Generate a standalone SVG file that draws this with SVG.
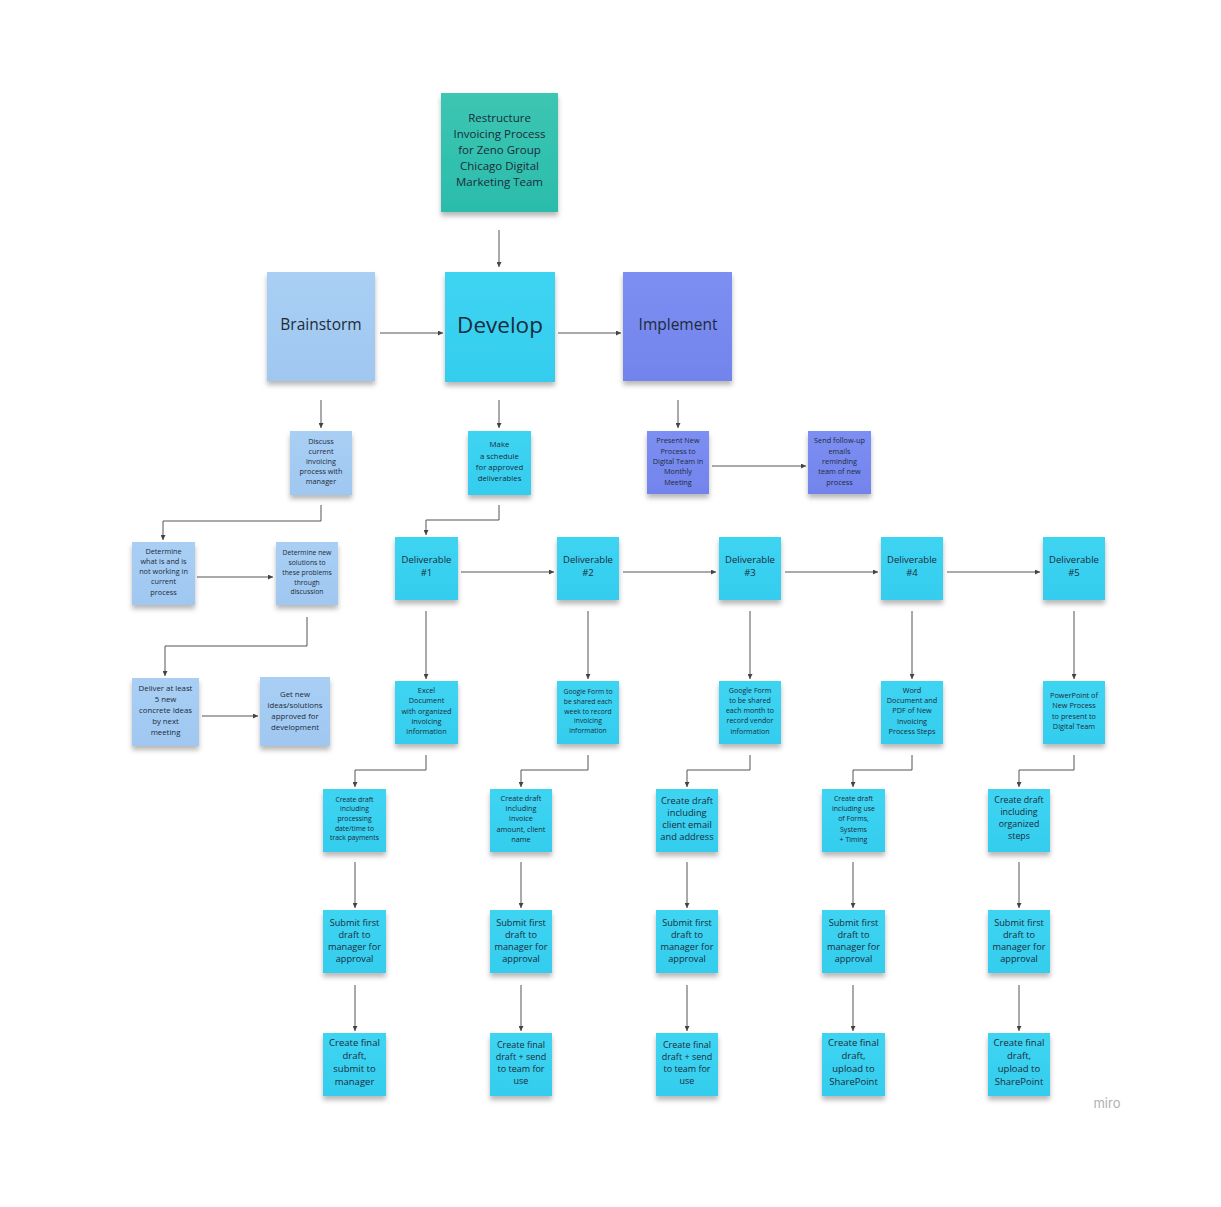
<svg xmlns="http://www.w3.org/2000/svg" width="1221" height="1207" viewBox="0 0 1221 1207">
<defs>
<filter id="sh" x="-20%" y="-20%" width="140%" height="150%">
<feDropShadow dx="0" dy="4" stdDeviation="2.5" flood-color="#000" flood-opacity="0.28"/>
</filter>
<linearGradient id="gTeal" x1="0" y1="0" x2="0" y2="1"><stop offset="0" stop-color="#3cc6b2"/><stop offset="1" stop-color="#2bbcab"/></linearGradient>
<linearGradient id="gBlue" x1="0" y1="0" x2="0" y2="1"><stop offset="0" stop-color="#a9cff4"/><stop offset="1" stop-color="#9fc7f0"/></linearGradient>
<linearGradient id="gCyan" x1="0" y1="0" x2="0" y2="1"><stop offset="0" stop-color="#3ed4f2"/><stop offset="1" stop-color="#34cdee"/></linearGradient>
<linearGradient id="gPurp" x1="0" y1="0" x2="0" y2="1"><stop offset="0" stop-color="#7d8ff2"/><stop offset="1" stop-color="#7284ec"/></linearGradient>
<marker id="ah" viewBox="0 0 6 6" refX="6" refY="3" markerWidth="5" markerHeight="5" orient="auto" markerUnits="userSpaceOnUse">
<path d="M0,0 L6,3 L0,6 z" fill="#444"/>
</marker>
</defs>
<style>
.teal{fill:url(#gTeal);filter:url(#sh)}
.blue{fill:url(#gBlue);filter:url(#sh)}
.cyan{fill:url(#gCyan);filter:url(#sh)}
.purp{fill:url(#gPurp);filter:url(#sh)}
text{font-family:"Open Sans","Noto Sans",sans-serif;fill:#1c2b3a;text-anchor:middle;dominant-baseline:central}
.c line,.c polyline{stroke:#555;stroke-width:1;fill:none;marker-end:url(#ah)}
</style>
<rect width="1221" height="1207" fill="#fff"/>

<g class="c" id="connectors">
<line x1="499" y1="230" x2="499" y2="267"/>
<line x1="380" y1="333" x2="443" y2="333"/>
<line x1="558" y1="333" x2="621" y2="333"/>
<line x1="321" y1="400" x2="321" y2="428"/>
<line x1="499" y1="400" x2="499" y2="428"/>
<line x1="678" y1="400" x2="678" y2="428"/>
<polyline points="321,505 321,521 163,521 163,540"/>
<line x1="197" y1="577" x2="273" y2="577"/>
<polyline points="307,617 307,646 165,646 165,676"/>
<line x1="202" y1="716" x2="258" y2="716"/>
<polyline points="499,505 499,520 426,520 426,535"/>
<line x1="712" y1="466" x2="806" y2="466"/>
<line x1="461" y1="572" x2="554" y2="572"/>
<line x1="623" y1="572" x2="716" y2="572"/>
<line x1="785" y1="572" x2="878" y2="572"/>
<line x1="947" y1="572" x2="1040" y2="572"/>
<line x1="426" y1="611" x2="426" y2="679"/>
<line x1="588" y1="611" x2="588" y2="679"/>
<line x1="750" y1="611" x2="750" y2="679"/>
<line x1="912" y1="611" x2="912" y2="679"/>
<line x1="1074" y1="611" x2="1074" y2="679"/>
<polyline points="426,755 426,770 355,770 355,787"/>
<polyline points="588,755 588,770 521,770 521,787"/>
<polyline points="750,755 750,770 687,770 687,787"/>
<polyline points="912,755 912,770 853,770 853,787"/>
<polyline points="1074,755 1074,770 1019,770 1019,787"/>
<line x1="355" y1="862" x2="355" y2="908"/>
<line x1="521" y1="862" x2="521" y2="908"/>
<line x1="687" y1="862" x2="687" y2="908"/>
<line x1="853" y1="862" x2="853" y2="908"/>
<line x1="1019" y1="862" x2="1019" y2="908"/>
<line x1="355" y1="985" x2="355" y2="1031"/>
<line x1="521" y1="985" x2="521" y2="1031"/>
<line x1="687" y1="985" x2="687" y2="1031"/>
<line x1="853" y1="985" x2="853" y2="1031"/>
<line x1="1019" y1="985" x2="1019" y2="1031"/>
</g>

<g id="n-top"><rect class="teal" x="441" y="93" width="117" height="119"/>
<text font-size="11.5"><tspan x="499.5" y="117">Restructure</tspan><tspan x="499.5" y="133">Invoicing Process</tspan><tspan x="499.5" y="149">for Zeno Group</tspan><tspan x="499.5" y="165">Chicago Digital</tspan><tspan x="499.5" y="181">Marketing Team</tspan></text></g>

<g id="n-brainstorm"><rect class="blue" x="267" y="272" width="108" height="109"/>
<text x="321" y="324" font-size="15.5">Brainstorm</text></g>
<g id="n-develop"><rect class="cyan" x="445" y="272" width="110" height="110"/>
<text x="500" y="324" font-size="22.5">Develop</text></g>
<g id="n-implement"><rect class="purp" x="623" y="272" width="109" height="109"/>
<text x="678" y="324" font-size="15.5">Implement</text></g>

<g id="n-discuss"><rect class="blue" x="290" y="431" width="62" height="64"/>
<text font-size="7.3"><tspan x="321" y="441">Discuss</tspan><tspan x="321" y="451">current</tspan><tspan x="321" y="461">invoicing</tspan><tspan x="321" y="471">process with</tspan><tspan x="321" y="481">manager</tspan></text></g>
<g id="n-determine1"><rect class="blue" x="132" y="542" width="63" height="63"/>
<text font-size="7.3"><tspan x="163.5" y="551">Determine</tspan><tspan x="163.5" y="561">what is and is</tspan><tspan x="163.5" y="571">not working in</tspan><tspan x="163.5" y="581">current</tspan><tspan x="163.5" y="592">process</tspan></text></g>
<g id="n-determine2"><rect class="blue" x="276" y="542" width="62" height="63"/>
<text font-size="6.8"><tspan x="307" y="552">Determine new</tspan><tspan x="307" y="562">solutions to</tspan><tspan x="307" y="572">these problems</tspan><tspan x="307" y="582">through</tspan><tspan x="307" y="591">discussion</tspan></text></g>
<g id="n-deliver"><rect class="blue" x="132" y="678" width="67" height="68"/>
<text font-size="7.8"><tspan x="165.5" y="688">Deliver at least</tspan><tspan x="165.5" y="699">5 new</tspan><tspan x="165.5" y="710">concrete Ideas</tspan><tspan x="165.5" y="721">by next</tspan><tspan x="165.5" y="732">meeting</tspan></text></g>
<g id="n-getnew"><rect class="blue" x="260" y="677" width="70" height="69"/>
<text font-size="7.8"><tspan x="295" y="694">Get new</tspan><tspan x="295" y="705">ideas/solutions</tspan><tspan x="295" y="716">approved for</tspan><tspan x="295" y="727">development</tspan></text></g>

<g id="n-schedule"><rect class="cyan" x="468" y="431" width="63" height="64"/>
<text font-size="7.8"><tspan x="499.5" y="444">Make</tspan><tspan x="499.5" y="456">a schedule</tspan><tspan x="499.5" y="467">for approved</tspan><tspan x="499.5" y="478">deliverables</tspan></text></g>

<g id="n-present"><rect class="purp" x="647" y="431" width="62" height="63"/>
<text font-size="7.3"><tspan x="678" y="440">Present New</tspan><tspan x="678" y="451">Process to</tspan><tspan x="678" y="461">Digital Team in</tspan><tspan x="678" y="471">Monthly</tspan><tspan x="678" y="482">Meeting</tspan></text></g>
<g id="n-followup"><rect class="purp" x="808" y="431" width="63" height="63"/>
<text font-size="7.3"><tspan x="839.5" y="440">Send follow-up</tspan><tspan x="839.5" y="451">emails</tspan><tspan x="839.5" y="461">reminding</tspan><tspan x="839.5" y="471">team of new</tspan><tspan x="839.5" y="482">process</tspan></text></g>

<g id="n-d1"><rect class="cyan" x="395" y="537" width="63" height="63"/>
<text font-size="9.5"><tspan x="426.5" y="559">Deliverable</tspan><tspan x="426.5" y="572">#1</tspan></text></g>
<g id="n-d2"><rect class="cyan" x="557" y="537" width="62" height="63"/>
<text font-size="9.5"><tspan x="588" y="559">Deliverable</tspan><tspan x="588" y="572">#2</tspan></text></g>
<g id="n-d3"><rect class="cyan" x="719" y="537" width="62" height="63"/>
<text font-size="9.5"><tspan x="750" y="559">Deliverable</tspan><tspan x="750" y="572">#3</tspan></text></g>
<g id="n-d4"><rect class="cyan" x="881" y="537" width="62" height="63"/>
<text font-size="9.5"><tspan x="912" y="559">Deliverable</tspan><tspan x="912" y="572">#4</tspan></text></g>
<g id="n-d5"><rect class="cyan" x="1043" y="537" width="62" height="63"/>
<text font-size="9.5"><tspan x="1074" y="559">Deliverable</tspan><tspan x="1074" y="572">#5</tspan></text></g>

<g id="n-excel"><rect class="cyan" x="395" y="681" width="63" height="63"/>
<text font-size="7.3"><tspan x="426.5" y="690">Excel</tspan><tspan x="426.5" y="700">Document</tspan><tspan x="426.5" y="711">with organized</tspan><tspan x="426.5" y="721">invoicing</tspan><tspan x="426.5" y="731">information</tspan></text></g>
<g id="n-gform1"><rect class="cyan" x="557" y="681" width="62" height="63"/>
<text font-size="6.8"><tspan x="588" y="691">Google Form to</tspan><tspan x="588" y="701">be shared each</tspan><tspan x="588" y="711">week to record</tspan><tspan x="588" y="720">invoicing</tspan><tspan x="588" y="730">information</tspan></text></g>
<g id="n-gform2"><rect class="cyan" x="719" y="681" width="62" height="63"/>
<text font-size="7.1"><tspan x="750" y="690">Google Form</tspan><tspan x="750" y="700">to be shared</tspan><tspan x="750" y="710">each month to</tspan><tspan x="750" y="720">record vendor</tspan><tspan x="750" y="731">information</tspan></text></g>
<g id="n-word"><rect class="cyan" x="881" y="681" width="62" height="63"/>
<text font-size="7.3"><tspan x="912" y="690">Word</tspan><tspan x="912" y="700">Document and</tspan><tspan x="912" y="710">PDF of New</tspan><tspan x="912" y="721">Invoicing</tspan><tspan x="912" y="731">Process Steps</tspan></text></g>
<g id="n-ppt"><rect class="cyan" x="1043" y="681" width="62" height="63"/>
<text font-size="7.3"><tspan x="1074" y="695">PowerPoint of</tspan><tspan x="1074" y="705">New Process</tspan><tspan x="1074" y="716">to present to</tspan><tspan x="1074" y="726">Digital Team</tspan></text></g>

<g id="n-cd1"><rect class="cyan" x="323" y="789" width="63" height="63"/>
<text font-size="6.8"><tspan x="354.5" y="799">Create draft</tspan><tspan x="354.5" y="808">including</tspan><tspan x="354.5" y="818">processing</tspan><tspan x="354.5" y="828">date/time to</tspan><tspan x="354.5" y="837">track payments</tspan></text></g>
<g id="n-cd2"><rect class="cyan" x="490" y="789" width="62" height="63"/>
<text font-size="7.3"><tspan x="521" y="798">Create draft</tspan><tspan x="521" y="808">including</tspan><tspan x="521" y="818">invoice</tspan><tspan x="521" y="829">amount, client</tspan><tspan x="521" y="839">name</tspan></text></g>
<g id="n-cd3"><rect class="cyan" x="656" y="789" width="62" height="63"/>
<text font-size="9.3"><tspan x="687" y="800">Create draft</tspan><tspan x="687" y="812">including</tspan><tspan x="687" y="824">client email</tspan><tspan x="687" y="836">and address</tspan></text></g>
<g id="n-cd4"><rect class="cyan" x="822" y="789" width="63" height="63"/>
<text font-size="7"><tspan x="853.5" y="798">Create draft</tspan><tspan x="853.5" y="808">including use</tspan><tspan x="853.5" y="818">of Forms,</tspan><tspan x="853.5" y="829">Systems</tspan><tspan x="853.5" y="839">+ Timing</tspan></text></g>
<g id="n-cd5"><rect class="cyan" x="988" y="789" width="62" height="63"/>
<text font-size="8.8"><tspan x="1019" y="800">Create draft</tspan><tspan x="1019" y="812">including</tspan><tspan x="1019" y="824">organized</tspan><tspan x="1019" y="836">steps</tspan></text></g>

<g id="n-s1"><rect class="cyan" x="323" y="910" width="63" height="63"/>
<text font-size="9.2"><tspan x="354.5" y="922">Submit first</tspan><tspan x="354.5" y="934">draft to</tspan><tspan x="354.5" y="946">manager for</tspan><tspan x="354.5" y="958">approval</tspan></text></g>
<g id="n-s2"><rect class="cyan" x="490" y="910" width="62" height="63"/>
<text font-size="9.2"><tspan x="521" y="922">Submit first</tspan><tspan x="521" y="934">draft to</tspan><tspan x="521" y="946">manager for</tspan><tspan x="521" y="958">approval</tspan></text></g>
<g id="n-s3"><rect class="cyan" x="656" y="910" width="62" height="63"/>
<text font-size="9.2"><tspan x="687" y="922">Submit first</tspan><tspan x="687" y="934">draft to</tspan><tspan x="687" y="946">manager for</tspan><tspan x="687" y="958">approval</tspan></text></g>
<g id="n-s4"><rect class="cyan" x="822" y="910" width="63" height="63"/>
<text font-size="9.2"><tspan x="853.5" y="922">Submit first</tspan><tspan x="853.5" y="934">draft to</tspan><tspan x="853.5" y="946">manager for</tspan><tspan x="853.5" y="958">approval</tspan></text></g>
<g id="n-s5"><rect class="cyan" x="988" y="910" width="62" height="63"/>
<text font-size="9.2"><tspan x="1019" y="922">Submit first</tspan><tspan x="1019" y="934">draft to</tspan><tspan x="1019" y="946">manager for</tspan><tspan x="1019" y="958">approval</tspan></text></g>

<g id="n-f1"><rect class="cyan" x="323" y="1033" width="63" height="63"/>
<text font-size="9.5"><tspan x="354.5" y="1042">Create final</tspan><tspan x="354.5" y="1055">draft,</tspan><tspan x="354.5" y="1068">submit to</tspan><tspan x="354.5" y="1081">manager</tspan></text></g>
<g id="n-f2"><rect class="cyan" x="490" y="1033" width="62" height="63"/>
<text font-size="9"><tspan x="521" y="1044">Create final</tspan><tspan x="521" y="1056">draft + send</tspan><tspan x="521" y="1068">to team for</tspan><tspan x="521" y="1080">use</tspan></text></g>
<g id="n-f3"><rect class="cyan" x="656" y="1033" width="62" height="63"/>
<text font-size="9"><tspan x="687" y="1044">Create final</tspan><tspan x="687" y="1056">draft + send</tspan><tspan x="687" y="1068">to team for</tspan><tspan x="687" y="1080">use</tspan></text></g>
<g id="n-f4"><rect class="cyan" x="822" y="1033" width="63" height="63"/>
<text font-size="9.5"><tspan x="853.5" y="1042">Create final</tspan><tspan x="853.5" y="1055">draft,</tspan><tspan x="853.5" y="1068">upload to</tspan><tspan x="853.5" y="1081">SharePoint</tspan></text></g>
<g id="n-f5"><rect class="cyan" x="988" y="1033" width="62" height="63"/>
<text font-size="9.5"><tspan x="1019" y="1042">Create final</tspan><tspan x="1019" y="1055">draft,</tspan><tspan x="1019" y="1068">upload to</tspan><tspan x="1019" y="1081">SharePoint</tspan></text></g>

<text x="1107" y="1103" font-size="13" style="fill:#b0b0b0;font-family:'Inter','Noto Sans',sans-serif">miro</text>
</svg>
